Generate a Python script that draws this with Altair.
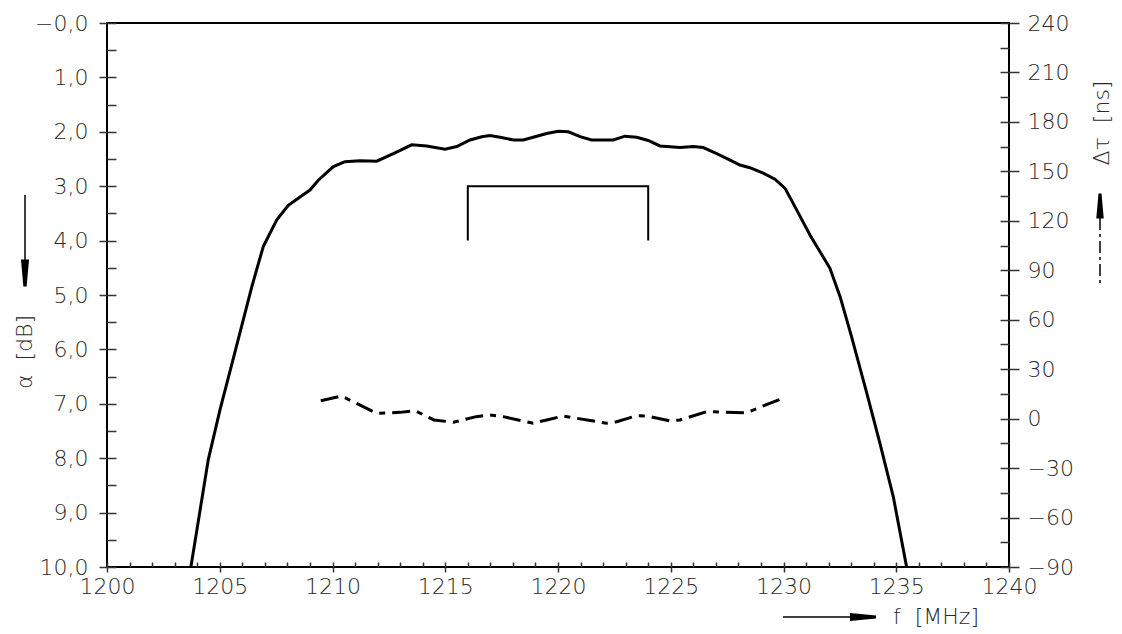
import altair as alt
import pandas as pd

# ---- data ----
f_att = [1203.72, 1204.49, 1205.01, 1205.70, 1206.42, 1206.93, 1207.53, 1208.04, 1209.00, 1209.37,
         1210.04, 1210.55, 1211.22, 1211.96, 1212.70, 1213.51, 1214.18, 1214.99, 1215.51, 1216.10,
         1216.62, 1216.98, 1217.43, 1218.02, 1218.46, 1218.90, 1219.50, 1220.01, 1220.46, 1220.98,
         1221.49, 1222.45, 1222.97, 1223.49, 1224.00, 1224.52, 1225.41, 1226.00, 1226.44, 1227.04,
         1227.63, 1228.07, 1228.51, 1229.10, 1229.62, 1230.07, 1230.59, 1231.18, 1232.06, 1232.51,
         1233.02, 1233.69, 1234.28, 1234.87, 1235.46]
att_db = [10.0, 8.03, 7.11, 6.01, 4.85, 4.11, 3.62, 3.35, 3.07, 2.89,
          2.64, 2.55, 2.53, 2.54, 2.40, 2.24, 2.26, 2.32, 2.27, 2.15,
          2.09, 2.07, 2.10, 2.15, 2.15, 2.10, 2.03, 1.99, 2.00, 2.09,
          2.15, 2.15, 2.08, 2.10, 2.16, 2.26, 2.29, 2.27, 2.29, 2.40,
          2.52, 2.61, 2.66, 2.76, 2.87, 3.04, 3.44, 3.90, 4.51, 5.03,
          5.77, 6.80, 7.73, 8.71, 10.0]

f_delay = [1209.48, 1210.41, 1211.20, 1211.96, 1212.99, 1213.66, 1214.50, 1215.36, 1216.37, 1216.98,
           1217.57, 1218.90, 1219.50, 1220.23, 1220.83, 1221.50, 1222.16, 1222.60, 1223.49, 1223.93,
           1224.97, 1225.41, 1226.59, 1227.26, 1228.37, 1229.10, 1229.85]
delay_ns = [10.9, 13.7, 8.3, 3.2, 3.8, 4.8, -0.8, -2.2, 1.2, 2.2,
            1.2, -2.8, -0.8, 1.6, 0.2, -1.3, -2.8, -1.9, 1.8, 1.6,
            -1.4, -0.8, 4.2, 4.0, 3.6, 7.7, 11.7]

mask_f = [1216, 1216, 1224, 1224]
mask_db = [4.0, 3.0, 3.0, 4.0]
mask_order = [0, 1, 2, 3]

x_ticks_major = list(range(1200, 1241, 5))
x_ticks_minor = list(range(1200, 1241, 1))
a_ticks_major = list(range(0, 11))
a_ticks_minor = [i * 0.5 for i in range(21)]
t_ticks_major = list(range(-90, 241, 30))
t_ticks_minor = list(range(-90, 241, 15))

W, H = 902, 544
FONT = "DejaVu Sans"
LBL = "#2a2a2a"
TCK = "#333333"
FS = 22
FW = 300

att = pd.DataFrame({"f": f_att, "a": att_db})
dly = pd.DataFrame({"f": f_delay, "t": delay_ns})
mask = pd.DataFrame({"f": mask_f, "a": mask_db, "o": mask_order})

xs = alt.Scale(domain=[1200, 1240], nice=False, zero=False)
ys_a = alt.Scale(domain=[0, 10], reverse=True, nice=False, zero=False)
ys_t = alt.Scale(domain=[-90, 240], nice=False, zero=False)

a_expr = "datum.value == 0 ? '\u22120,0' : replace(format(datum.value, '.1f'), '.', ',')"
t_expr = "datum.value < 0 ? '\u2212' + abs(datum.value) : '' + datum.value"
x_expr = "'' + datum.value"

common = dict(domain=False, grid=False, title=None, tickColor=TCK, tickWidth=1.5,
              labelFont=FONT, labelFontSize=FS, labelFontWeight=FW, labelColor=LBL,
              labelFlush=False, labelOverlap=False)

main = alt.Chart(att).mark_line(color="black", strokeWidth=3, clip=True).encode(
    x=alt.X("f:Q", scale=xs, axis=alt.Axis(orient="bottom", values=x_ticks_major, tickSize=5,
                                           labelPadding=4, labelExpr=x_expr, **common)),
    y=alt.Y("a:Q", scale=ys_a, axis=alt.Axis(orient="left", values=a_ticks_major, tickSize=8,
                                             labelPadding=11, labelExpr=a_expr, **common)),
)

maskc = alt.Chart(mask).mark_line(color="black", strokeWidth=2).encode(
    x=alt.X("f:Q", scale=xs, axis=alt.Axis(orient="top", offset=-H, values=x_ticks_minor, tickSize=5,
                                           labels=False, **common)),
    y=alt.Y("a:Q", scale=ys_a, axis=alt.Axis(orient="right", offset=-W, values=a_ticks_minor, tickSize=9,
                                             labels=False, **common)),
    order="o:Q",
)

delay = alt.Chart(dly).mark_line(color="black", strokeWidth=3, strokeDash=[18, 7, 6, 7], clip=True).encode(
    x=alt.X("f:Q", scale=xs, axis=None),
    y=alt.Y("t:Q", scale=ys_t, axis=alt.Axis(orient="right", values=t_ticks_major, tickSize=10,
                                             labelPadding=8, labelExpr=t_expr, **common)),
)

delay_ticks = alt.Chart(dly).mark_line(opacity=0).encode(
    x=alt.X("f:Q", scale=xs, axis=None),
    y=alt.Y("t:Q", scale=ys_t, axis=alt.Axis(orient="left", offset=-W, values=t_ticks_minor, tickSize=9,
                                             labels=False, **common)),
)

one = pd.DataFrame({"k": [0]})


def txt(s, x, y, angle=0, align="center"):
    return alt.Chart(pd.DataFrame({"s": [s]})).mark_text(
        font=FONT, fontSize=FS, fontWeight=FW, color=LBL, angle=angle, align=align, baseline="middle"
    ).encode(x=alt.value(x), y=alt.value(y), text="s:N")


def vrule(x, y1, y2, dash=None):
    kw = dict(color="black", strokeWidth=1.5)
    if dash:
        kw["strokeDash"] = dash
    return alt.Chart(one).mark_rule(**kw).encode(x=alt.value(x), y=alt.value(y1), y2=alt.value(y2))


def hrule(y, x1, x2):
    return alt.Chart(one).mark_rule(color="black", strokeWidth=1.5).encode(
        y=alt.value(y), x=alt.value(x1), x2=alt.value(x2))


def head(path, x, y, size):
    return alt.Chart(one).mark_point(shape=path, filled=True, size=size, color="black",
                                     opacity=1, strokeWidth=0).encode(x=alt.value(x), y=alt.value(y))


DOWN = "M-0.3,-1L0.3,-1L0.12,1L-0.12,1Z"
UP = "M-0.12,-1L0.12,-1L0.3,1L-0.3,1Z"
RIGHT = "M-1,-0.3L1,-0.12L1,0.12L-1,0.3Z"

annots = [
    txt("\u03b1\u00a0\u00a0[dB]", -82, 329, angle=270),
    vrule(-82, 172, 240),
    head(DOWN, -82, 250, 729),
    txt("\u0394\u03c4\u00a0\u00a0[ns]", 995, 100, angle=270),
    vrule(993, 195, 262, dash=[12, 4, 3, 4]),
    head(UP, 993, 183, 625),
    txt("f\u00a0\u00a0[MHz]", 786, 594, align="left"),
    hrule(594, 676, 745),
    head(RIGHT, 756, 594, 676),
]

chart = alt.layer(main, maskc, delay, delay_ticks, *annots).resolve_scale(
    x="independent", y="independent"
).properties(
    width=W, height=H,
    autosize=alt.AutoSizeParams(type="none"),
    padding={"left": 99, "top": 15, "right": 105, "bottom": 64},
).configure_view(stroke="black", strokeWidth=2).configure_axis(grid=False)

chart.save("out.html", embed_options={"renderer": "svg", "actions": False})
